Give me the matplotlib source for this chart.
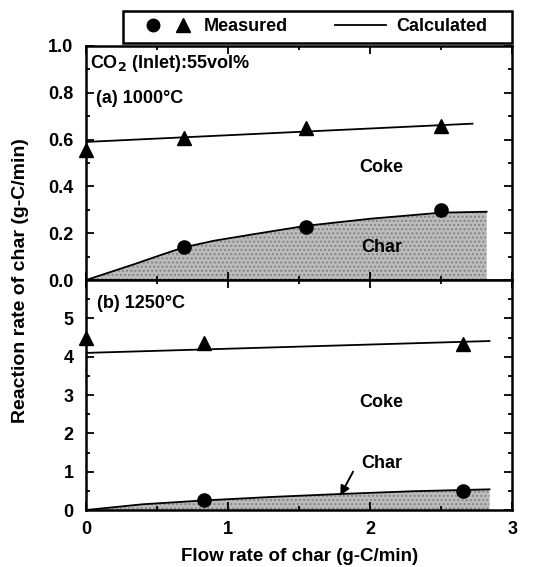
import numpy as np
import matplotlib.pyplot as plt
from matplotlib.ticker import MultipleLocator
from matplotlib.lines import Line2D
from matplotlib.patches import Rectangle
from matplotlib.legend_handler import HandlerTuple

plt.rcParams['font.family'] = ['Liberation Sans', 'DejaVu Sans']
plt.rcParams['font.weight'] = 'bold'
plt.rcParams['font.size'] = 13

# (a) 1000 C
a_tri_x = [0.0, 0.69, 1.55, 2.50]
a_tri_y = [0.557, 0.608, 0.648, 0.658]
a_circ_x = [0.69, 1.55, 2.50]
a_circ_y = [0.143, 0.228, 0.300]
a_coke_x = [0.0, 2.72]
a_coke_y = [0.590, 0.668]
a_char_x = [0.0, 0.15, 0.35, 0.55, 0.69, 0.9, 1.2, 1.55, 2.0, 2.5, 2.82]
a_char_y = [0.0, 0.030, 0.070, 0.112, 0.140, 0.168, 0.198, 0.232, 0.262, 0.288, 0.292]

# (b) 1250 C
b_tri_x = [0.0, 0.83, 2.65]
b_tri_y = [4.49, 4.36, 4.33]
b_circ_x = [0.83, 2.65]
b_circ_y = [0.26, 0.50]
b_coke_x = [0.0, 2.84]
b_coke_y = [4.10, 4.41]
b_char_x = [0.0, 0.4, 0.83, 1.3, 1.8, 2.3, 2.84]
b_char_y = [0.0, 0.15, 0.25, 0.34, 0.42, 0.49, 0.54]

fig = plt.figure(figsize=(5.58, 5.67), dpi=100)
ax1 = fig.add_axes([0.154, 0.506, 0.764, 0.413])
ax2 = fig.add_axes([0.154, 0.1005, 0.764, 0.4055])

fill_kw = dict(facecolor='#bcbcbc', edgecolor='#848484', hatch='....', linewidth=0)

# top panel
ax1.fill_between(a_char_x, a_char_y, 0, **fill_kw)
ax1.plot(a_char_x, a_char_y, color='black', lw=1.3)
ax1.plot(a_coke_x, a_coke_y, color='black', lw=1.3)
ax1.plot(a_tri_x, a_tri_y, '^', color='black', ms=10.5, clip_on=False, zorder=5)
ax1.plot(a_circ_x, a_circ_y, 'o', color='black', ms=9.5, clip_on=False, zorder=5)
ax1.set_xlim(0, 3)
ax1.set_ylim(0, 1.0)
ax1.yaxis.set_major_locator(MultipleLocator(0.2))
ax1.yaxis.set_minor_locator(MultipleLocator(0.1))
ax1.xaxis.set_major_locator(MultipleLocator(1))
ax1.xaxis.set_minor_locator(MultipleLocator(0.5))
ax1.yaxis.set_major_formatter(plt.FormatStrFormatter('%.1f'))
ax1.tick_params(labelbottom=False)
ax1.text(0.03, 0.925, 'CO$_\\mathbf{2}$ (Inlet):55vol%', va='center')
ax1.text(0.07, 0.775, '(a) 1000°C', va='center')
ax1.text(2.08, 0.48, 'Coke', ha='center', va='center')
ax1.text(2.08, 0.14, 'Char', ha='center', va='center')

# bottom panel
ax2.fill_between(b_char_x, b_char_y, 0, **fill_kw)
ax2.plot(b_char_x, b_char_y, color='black', lw=1.3)
ax2.plot(b_coke_x, b_coke_y, color='black', lw=1.3)
ax2.plot(b_tri_x, b_tri_y, '^', color='black', ms=10.5, clip_on=False, zorder=5)
ax2.plot(b_circ_x, b_circ_y, 'o', color='black', ms=9.5, clip_on=False, zorder=5)
ax2.set_xlim(0, 3)
ax2.set_ylim(0, 6)
ax2.set_yticks([0, 1, 2, 3, 4, 5])
ax2.yaxis.set_minor_locator(MultipleLocator(0.5))
ax2.xaxis.set_major_locator(MultipleLocator(1))
ax2.xaxis.set_minor_locator(MultipleLocator(0.5))
ax2.text(0.08, 5.4, '(b) 1250°C', va='center')
ax2.text(2.08, 2.8, 'Coke', ha='center', va='center')
ax2.text(2.08, 1.22, 'Char', ha='center', va='center')
ax2.annotate('', xy=(1.79, 0.38), xytext=(1.88, 1.0),
             arrowprops=dict(arrowstyle='-|>', color='black', lw=1.4,
                             shrinkA=0, shrinkB=0, mutation_scale=14))
ax2.set_xlabel('Flow rate of char (g-C/min)', fontsize=13.5, fontweight='bold', labelpad=7)

for ax in (ax1, ax2):
    ax.tick_params(which='both', direction='in', top=True, right=True, width=1.3)
    ax.tick_params(which='major', length=6, labelsize=13)
    ax.tick_params(axis='y', which='major', pad=9)
    ax.tick_params(axis='x', which='major', pad=8)
    ax.tick_params(which='minor', length=3)
    for s in ax.spines.values():
        s.set_linewidth(1.8)
    for lab in ax.get_xticklabels() + ax.get_yticklabels():
        lab.set_fontweight('bold')

fig.text(0.037, 0.506, 'Reaction rate of char (g-C/min)', rotation=90,
         ha='center', va='center', fontsize=14, fontweight='bold')

# legend box above the top panel
fig.patches.append(Rectangle((0.2204, 0.924), 0.6972, 0.057, transform=fig.transFigure,
                             facecolor='white', edgecolor='black', linewidth=1.8))
handles = [
    (Line2D([], [], marker='o', color='black', ls='none', ms=9),
     Line2D([], [], marker='^', color='black', ls='none', ms=10)),
    Line2D([], [], color='black', lw=1.3),
]
leg = fig.legend(handles, ['Measured', 'Calculated'], ncol=2,
                 handler_map={tuple: HandlerTuple(ndivide=None, pad=0.6)},
                 loc='center', bbox_to_anchor=(0.565, 0.9525),
                 frameon=False, borderpad=0, handlelength=2.8, handletextpad=0.6,
                 columnspacing=2.6, borderaxespad=0,
                 prop={'weight': 'bold', 'size': 13})

fig.savefig('out.png', dpi=100)
